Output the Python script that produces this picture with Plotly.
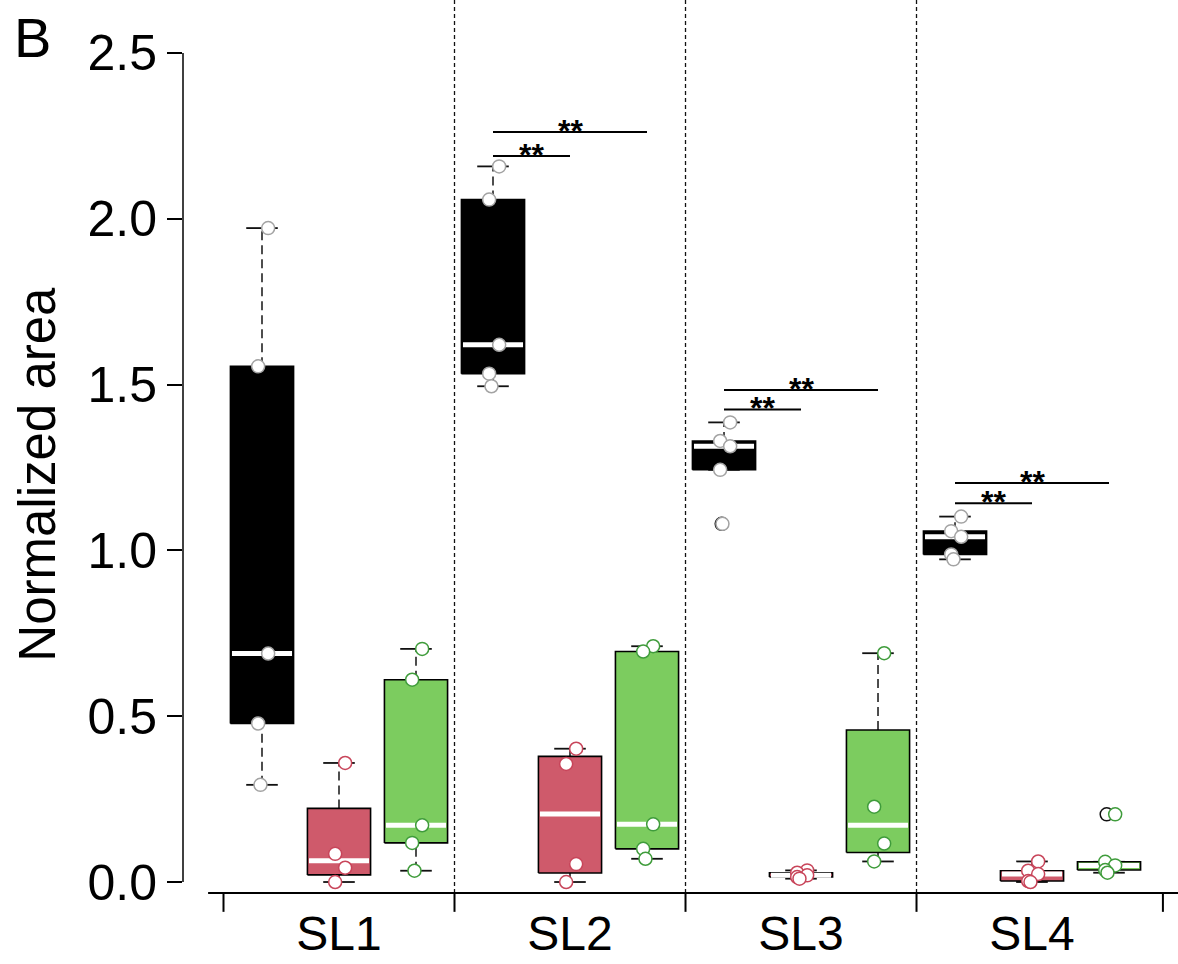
import numpy as np
import plotly.graph_objects as go

# ---------------- data ----------------
groups = ["SL1", "SL2", "SL3", "SL4"]

black_vals = [
    [1.972, 1.555, 0.689, 0.478, 0.293],
    [2.158, 2.058, 1.620, 1.533, 1.495],
    [1.386, 1.330, 1.314, 1.243, 1.080],
    [1.102, 1.058, 1.041, 0.988, 0.973],
]
red_vals = [
    [0.359, 0.085, 0.043, 0.000],
    [0.402, 0.356, 0.054, 0.000],
    [0.035, 0.028, 0.020, 0.015, 0.010],
    [0.062, 0.034, 0.024, 0.003, 0.000],
]
green_vals = [
    [0.703, 0.610, 0.171, 0.118, 0.034],
    [0.711, 0.695, 0.174, 0.100, 0.070],
    [0.690, 0.227, 0.116, 0.062],
    [0.204, 0.061, 0.050, 0.036, 0.028],
]
# significance bars (black vs red, black vs green), per group
sig_low_y = [None, 2.189, 1.425, 1.142]
sig_high_y = [None, 2.262, 1.484, 1.203]
sig_label = "**"

y_ticks = [0.0, 0.5, 1.0, 1.5, 2.0, 2.5]
y_ticktext = ["0.0", "0.5", "1.0", "1.5", "2.0", "2.5"]

# ---------------- styles ----------------
FONT = "Liberation Sans, Arial, Helvetica, sans-serif"
series = [
    dict(vals=black_vals, fill="#000000", pt="#a3a3a3"),
    dict(vals=red_vals, fill="#cf5a6b", pt="#c8455a"),
    dict(vals=green_vals, fill="#7ccc5f", pt="#3f9c3b"),
]
BOX_W = 0.82
CAP_W = 0.41
JIT = [0.08, -0.05, 0.08, -0.05, -0.02]


def fivenum(v):
    x = np.sort(np.asarray(v, dtype=float))
    n = len(x)
    n4 = np.floor((n + 3) / 2) / 2
    d = np.array([1, n4, (n + 1) / 2, n + 1 - n4, n]) - 1
    return 0.5 * (x[np.floor(d).astype(int)] + x[np.ceil(d).astype(int)])


def box_stats(v):
    f = fivenum(v)
    q1, med, q3 = f[1], f[2], f[3]
    iqr = q3 - q1
    arr = np.asarray(v, dtype=float)
    inside = arr[(arr >= q1 - 1.5 * iqr) & (arr <= q3 + 1.5 * iqr)]
    lo, hi = inside.min(), inside.max()
    out = arr[(arr < q1 - 1.5 * iqr) | (arr > q3 + 1.5 * iqr)]
    return q1, med, q3, lo, hi, out


fig = go.Figure()

wx, wy = [], []      # dashed whiskers
cx, cy = [], []      # caps
mx, my = [], []      # medians
ox, oy = [], []      # outliers
centers = {}

for s, ser in enumerate(series):
    bx, by = [], []
    px, py = [], []
    for g in range(len(groups)):
        c = g * 3 + s + 1
        centers[(g, s)] = c
        v = ser["vals"][g]
        q1, med, q3, lo, hi, out = box_stats(v)
        l, r = c - BOX_W / 2, c + BOX_W / 2
        bx += [l, r, r, l, l, None]
        by += [q1, q1, q3, q3, q1, None]
        if hi > q3:
            wx += [c, c, None]; wy += [q3, hi, None]
        if lo < q1:
            wx += [c, c, None]; wy += [lo, q1, None]
        cx += [c - CAP_W / 2, c + CAP_W / 2, None, c - CAP_W / 2, c + CAP_W / 2, None]
        cy += [hi, hi, None, lo, lo, None]
        mx += [l + 0.02, r - 0.02, None]; my += [med, med, None]
        for o in out:
            ox.append(c - 0.03); oy.append(o)
        for i, val in enumerate(v):
            px.append(c + JIT[i % len(JIT)]); py.append(val)
    ser["bx"], ser["by"], ser["px"], ser["py"] = bx, by, px, py

# whiskers (dashed) and caps
fig.add_trace(go.Scatter(x=wx, y=wy, mode="lines", line=dict(color="#222222", width=1.6, dash="9px,5px"),
                         hoverinfo="skip", showlegend=False))
fig.add_trace(go.Scatter(x=cx, y=cy, mode="lines", line=dict(color="#111111", width=1.8),
                         hoverinfo="skip", showlegend=False))
# boxes
for ser in series:
    fig.add_trace(go.Scatter(x=ser["bx"], y=ser["by"], mode="lines", fill="toself",
                             fillcolor=ser["fill"], line=dict(color="#000000", width=1.6),
                             hoverinfo="skip", showlegend=False))
# medians
fig.add_trace(go.Scatter(x=mx, y=my, mode="lines", line=dict(color="#ffffff", width=5),
                         hoverinfo="skip", showlegend=False))
# outliers (open black circles)
fig.add_trace(go.Scatter(x=ox, y=oy, mode="markers",
                         marker=dict(size=13, color="rgba(255,255,255,0)", line=dict(color="#111111", width=1.5)),
                         hoverinfo="skip", showlegend=False, cliponaxis=False))
# individual points
for ser in series:
    fig.add_trace(go.Scatter(x=ser["px"], y=ser["py"], mode="markers",
                             marker=dict(size=13, color="#ffffff", line=dict(color=ser["pt"], width=1.5)),
                             showlegend=False, cliponaxis=False))

# ---------------- shapes: axes, separators, significance ----------------
shapes = []
# y axis line (0 .. 2.5)
shapes.append(dict(type="line", xref="paper", yref="y", x0=0, x1=0, y0=y_ticks[0], y1=y_ticks[-1],
                   line=dict(color="#000000", width=1.5), layer="above"))
AX_Y = -0.033
TICK_Y = -0.090
# x axis line
shapes.append(dict(type="line", xref="x", yref="y", x0=0.3, x1=13.2, y0=AX_Y, y1=AX_Y,
                   line=dict(color="#000000", width=2)))
bounds = [0.5, 3.5, 6.5, 9.5, 12.7]
for b in bounds:
    shapes.append(dict(type="line", xref="x", yref="y", x0=b, x1=b, y0=AX_Y, y1=TICK_Y,
                       line=dict(color="#000000", width=2)))
for b in bounds[1:-1]:
    shapes.append(dict(type="line", xref="x", yref="y", x0=b, x1=b, y0=AX_Y, y1=2.7,
                       line=dict(color="#111111", width=1.3, dash="4px,3px"), layer="below"))

annotations = []
for g in range(len(groups)):
    for sy, tgt in ((sig_low_y[g], 1), (sig_high_y[g], 2)):
        if sy is None:
            continue
        x0 = centers[(g, 0)]
        x1 = centers[(g, tgt)]
        shapes.append(dict(type="line", xref="x", yref="y", x0=x0, x1=x1, y0=sy, y1=sy,
                           line=dict(color="#000000", width=2)))
        annotations.append(dict(x=(x0 + x1) / 2, y=sy, xref="x", yref="y", text="<b>" + sig_label + "</b>",
                                showarrow=False, yanchor="bottom", yshift=-19,
                                font=dict(family=FONT, size=32, color="#000000")))

# panel letter and y title
annotations.append(dict(x=-0.151, y=0.959, xref="paper", yref="paper", text="B", showarrow=False,
                        xanchor="center", yanchor="middle", font=dict(family=FONT, size=56, color="#000000")))
annotations.append(dict(x=-0.146, y=0.482, xref="paper", yref="paper", text="Normalized area",
                        showarrow=False, textangle=-90, xanchor="center", yanchor="middle",
                        font=dict(family=FONT, size=51, color="#000000")))

fig.update_layout(
    width=1178, height=964,
    margin=dict(l=183, r=0, t=0, b=49),
    paper_bgcolor="#ffffff", plot_bgcolor="#ffffff",
    shapes=shapes, annotations=annotations,
    xaxis=dict(range=[-0.026, 12.896], showgrid=False, zeroline=False, showline=False, automargin=False,
               tickvals=[2, 5, 8, 11], ticktext=groups, ticks="", ticklabelstandoff=-14,
               tickfont=dict(family=FONT, size=48, color="#000000")),
    yaxis=dict(range=[-0.0995, 2.6598], showgrid=False, zeroline=False, showline=False, automargin=False,
               tickvals=y_ticks, ticktext=y_ticktext, ticks="outside", ticklen=15, tickwidth=1.5,
               tickcolor="#000000", ticklabelstandoff=0,
               tickfont=dict(family=FONT, size=50, color="#000000")),
    showlegend=False,
)

fig.write_html("out.html", config={"displayModeBar": False},
               post_script="document.body.style.margin='0';document.body.style.overflow='hidden';")
